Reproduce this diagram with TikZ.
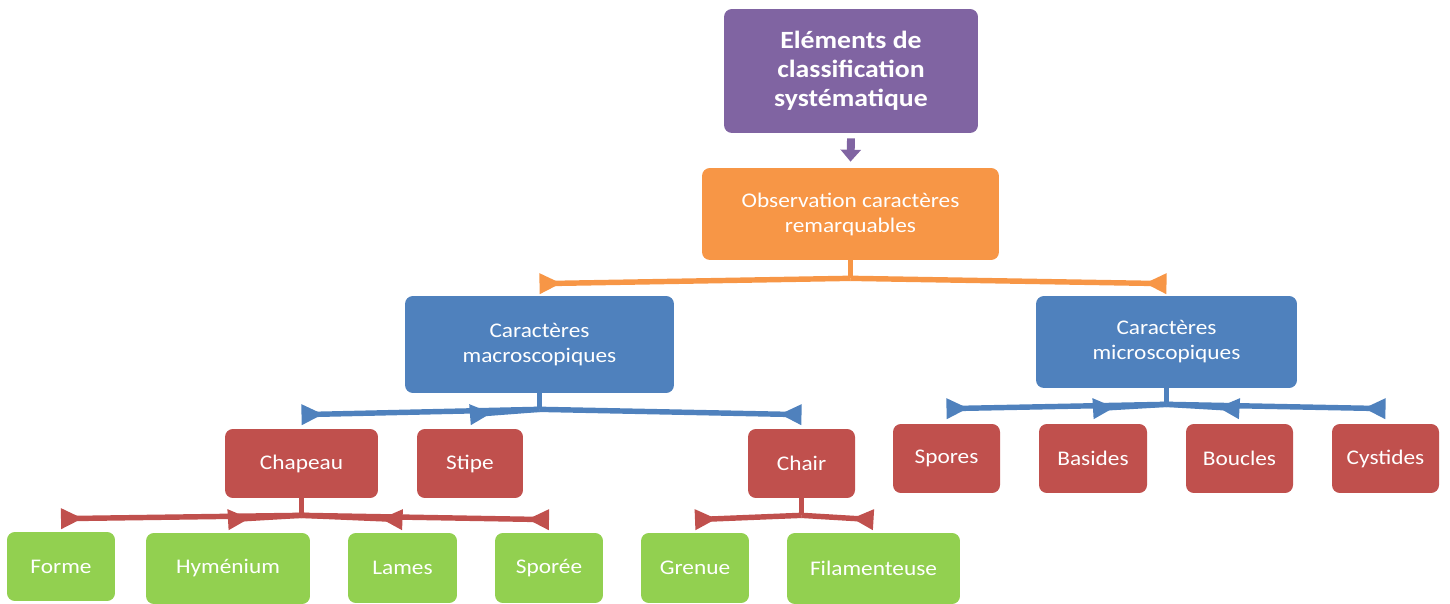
\documentclass[tikz,border=0pt]{standalone}
\usepackage{fontspec}
\setmainfont{Carlito}[FakeStretch=1.12]
\usepackage{tikz}
\usetikzlibrary{arrows.meta,calc}

\definecolor{boxPurple}{HTML}{8064A2}
\definecolor{boxOrange}{HTML}{F79646}
\definecolor{boxBlue}{HTML}{4F81BD}
\definecolor{boxRed}{HTML}{C0504D}
\definecolor{boxGreen}{HTML}{92D050}

\begin{document}
\begin{tikzpicture}[x=0.02cm,y=-0.02cm,
        box/.style = {rounded corners=4.5pt, text=white, align=center, inner sep=0pt,
                      font=\fontsize{11.85}{14.2}\selectfont},
        stem/.style = {line width=3.1pt},
        arm/.style = {line width=3.1pt, -{Triangle[reversed,length=12.5pt,width=11pt]}}]

        \useasboundingbox (0,0) rectangle (1450,604);

        % Top
        \node[box,fill=boxPurple,minimum width=5.08cm,minimum height=2.48cm,
              font=\fontsize{14.1}{16.4}\selectfont\bfseries] (title) at (851,71)
              {Eléments de\\classification\\systématique};
        \node[box,fill=boxOrange,minimum width=5.94cm,minimum height=1.84cm] (obs) at (850.5,214)
              {Observation caractères\\remarquables};

        % Caracteres
        \node[box,fill=boxBlue,minimum width=5.38cm,minimum height=1.94cm] (macro) at (539.5,344.5)
              {Caractères\\macroscopiques};
        \node[box,fill=boxBlue,minimum width=5.22cm,minimum height=1.84cm] (micro) at (1166.5,342)
              {Caractères\\microscopiques};

        % Macroscopiques
        \node[box,fill=boxRed,minimum width=3.06cm,minimum height=1.38cm] (chapeau) at (301.5,463.5) {Chapeau};
        \node[box,fill=boxRed,minimum width=2.12cm,minimum height=1.38cm] (stipe) at (470,463.5) {Stipe};
        \node[box,fill=boxRed,minimum width=2.14cm,minimum height=1.38cm] (chair) at (801.5,463.5) {Chair};

        % Microscopiques
        \node[box,fill=boxRed,minimum width=2.14cm,minimum height=1.38cm] (spores) at (946.5,458.5) {Spores};
        \node[box,fill=boxRed,minimum width=2.16cm,minimum height=1.38cm] (basides) at (1093,458.5) {Basides};
        \node[box,fill=boxRed,minimum width=2.14cm,minimum height=1.38cm] (boucles) at (1239.5,458.5) {Boucles};
        \node[box,fill=boxRed,minimum width=2.14cm,minimum height=1.38cm] (cystides) at (1385.5,458.5) {Cystides};

        % Chapeau et chair
        \node[box,fill=boxGreen,minimum width=2.16cm,minimum height=1.38cm] (forme) at (61,566.5) {Forme};
        \node[box,fill=boxGreen,minimum width=3.28cm,minimum height=1.42cm] (hymenium) at (228,568.5) {Hyménium};
        \node[box,fill=boxGreen,minimum width=2.18cm,minimum height=1.40cm] (lames) at (402.5,568) {Lames};
        \node[box,fill=boxGreen,minimum width=2.16cm,minimum height=1.40cm] (sporee) at (549,568) {Sporée};
        \node[box,fill=boxGreen,minimum width=2.16cm,minimum height=1.40cm] (grenue) at (695,568) {Grenue};
        \node[box,fill=boxGreen,minimum width=3.46cm,minimum height=1.42cm] (filam) at (873.5,568.5) {Filamenteuse};

        % Arrow
        \draw[boxPurple,line width=4.5pt,-{Triangle[length=6.8pt,width=11.3pt]}]
              ($(title.south)+(0,5)$) -- ($(obs.north)+(0,-6)$);

        % Junctions
        \coordinate (jObs) at ($(obs.south)+(0,18)$);
        \coordinate (jMacro) at ($(macro.south)+(0,16)$);
        \coordinate (jMicro) at ($(micro.south)+(0,16)$);
        \coordinate (jChapeau) at ($(chapeau.south)+(0,17)$);
        \coordinate (jChair) at ($(chair.south)+(0,17)$);

        % Orange connector
        \draw[stem,boxOrange] (obs.south) -- (jObs);
        \foreach \c in {macro,micro}
            \draw[arm,boxOrange] (jObs) -- ($(\c.north)+(0,-12)$);

        % Blue connectors
        \draw[stem,boxBlue] (macro.south) -- (jMacro);
        \foreach \c in {chapeau,stipe,chair}
            \draw[arm,boxBlue] (jMacro) -- ($(\c.north)+(0,-14)$);
        \draw[stem,boxBlue] (micro.south) -- (jMicro);
        \foreach \c in {spores,basides,boucles,cystides}
            \draw[arm,boxBlue] (jMicro) -- ($(\c.north)+(0,-15)$);

        % Red connectors
        \draw[stem,boxRed] (chapeau.south) -- (jChapeau);
        \foreach \c in {forme,hymenium,lames,sporee}
            \draw[arm,boxRed] (jChapeau) -- ($(\c.north)+(0,-13)$);
        \draw[stem,boxRed] (chair.south) -- (jChair);
        \foreach \c in {grenue,filam}
            \draw[arm,boxRed] (jChair) -- ($(\c.north)+(0,-13)$);

    \end{tikzpicture}
\end{document}
